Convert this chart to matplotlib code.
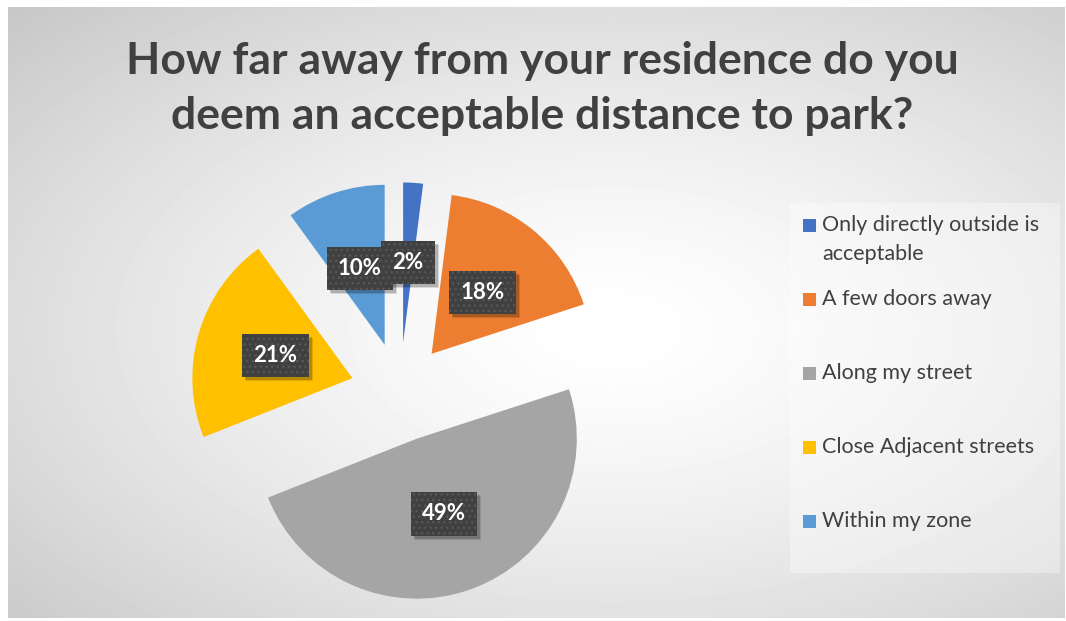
import numpy as np
import matplotlib
matplotlib.use("Agg")
import matplotlib.pyplot as plt
import matplotlib.transforms as mtransforms
from matplotlib.patches import Rectangle

plt.rcParams['font.family'] = ['Lato', 'DejaVu Sans']

title_lines = ["How far away from your residence do you",
               "deem an acceptable distance to park?"]
categories = ["Only directly outside is\nacceptable", "A few doors away",
              "Along my street", "Close Adjacent streets", "Within my zone"]
shares = [2, 18, 49, 21, 10]
colors = ["#4472C4", "#ED7D31", "#A5A5A5", "#FFC000", "#5B9BD5"]

W, H = 1066, 621
TEXT = "#404040"

fig = plt.figure(figsize=(W / 100, H / 100), dpi=100)
fig.patch.set_facecolor("white")

# background axes in pixel units, y pointing down
bg = fig.add_axes([0, 0, 1, 1])
bg.set_xlim(0, W)
bg.set_ylim(H, 0)
bg.axis("off")

x0, x1, y0, y1 = 8, 1065, 7, 618
xx, yy = np.meshgrid(np.arange(x0, x1) + 0.5, np.arange(y0, y1) + 0.5)
t = np.sqrt(((xx - 610) / 600) ** 2 + ((yy - 330) / 330) ** 2) / 1.39
shade = 255 - 56 * np.clip(t, 0, 1.05) ** 1.4
bg.imshow(shade, cmap="gray", vmin=0, vmax=255, extent=(x0, x1, y1, y0),
          interpolation="bilinear", zorder=0)

# legend panel
bg.add_patch(Rectangle((790, 203), 270, 370, facecolor="white", alpha=0.35,
                       edgecolor="none", zorder=1))

for i, line in enumerate(title_lines):
    bg.text(542, 74 + 55 * i, line, ha="center", va="baseline", fontsize=32,
            fontweight="bold", color=TEXT, zorder=2)

# legend entries
for i, (label, c) in enumerate(zip(categories, colors)):
    yc = 225 + 74 * i
    bg.add_patch(Rectangle((803, yc - 6.5), 13, 13, facecolor=c,
                           edgecolor="none", zorder=2))
    for k, part in enumerate(label.split("\n")):
        bg.text(822, yc + 29 * k, part, ha="left", va="center", fontsize=15.5,
                color=TEXT, zorder=2)

# pie axes in units of the pie radius
cx, cy, R = 400, 392, 160
ax = fig.add_axes([0, 0, 1, 1])
ax.patch.set_alpha(0)
wedges, _, autotexts = ax.pie(
    shares, colors=colors, startangle=90, counterclock=False,
    explode=[0.31] * len(shares), radius=1,
    autopct=lambda p: f"{p:.0f}%", pctdistance=0.5,
    wedgeprops=dict(linewidth=0),
    textprops=dict(color="white", fontsize=16, fontweight="bold", zorder=5))
ax.set_xlim(-cx / R, (W - cx) / R)
ax.set_ylim((cy - H) / R, cy / R)
ax.axis("off")

for txt in autotexts:
    txt.set_bbox(dict(boxstyle="square,pad=0.5", facecolor="#404040",
                      edgecolor="#575757", linewidth=0, hatch="..."))

# soft drop shadow under each label box, placed from the drawn box extents
fig.canvas.draw()
for i, txt in enumerate(autotexts):
    bb = txt.get_bbox_patch().get_window_extent()
    for off, alpha in [(4, 0.12), (3, 0.18)]:
        ax.add_patch(Rectangle((bb.x0 + off, bb.y0 - off), bb.width, bb.height,
                               transform=mtransforms.IdentityTransform(),
                               facecolor="black", alpha=alpha, linewidth=0,
                               zorder=4 + i * 0.01))

fig.savefig("out.png", dpi=100)
